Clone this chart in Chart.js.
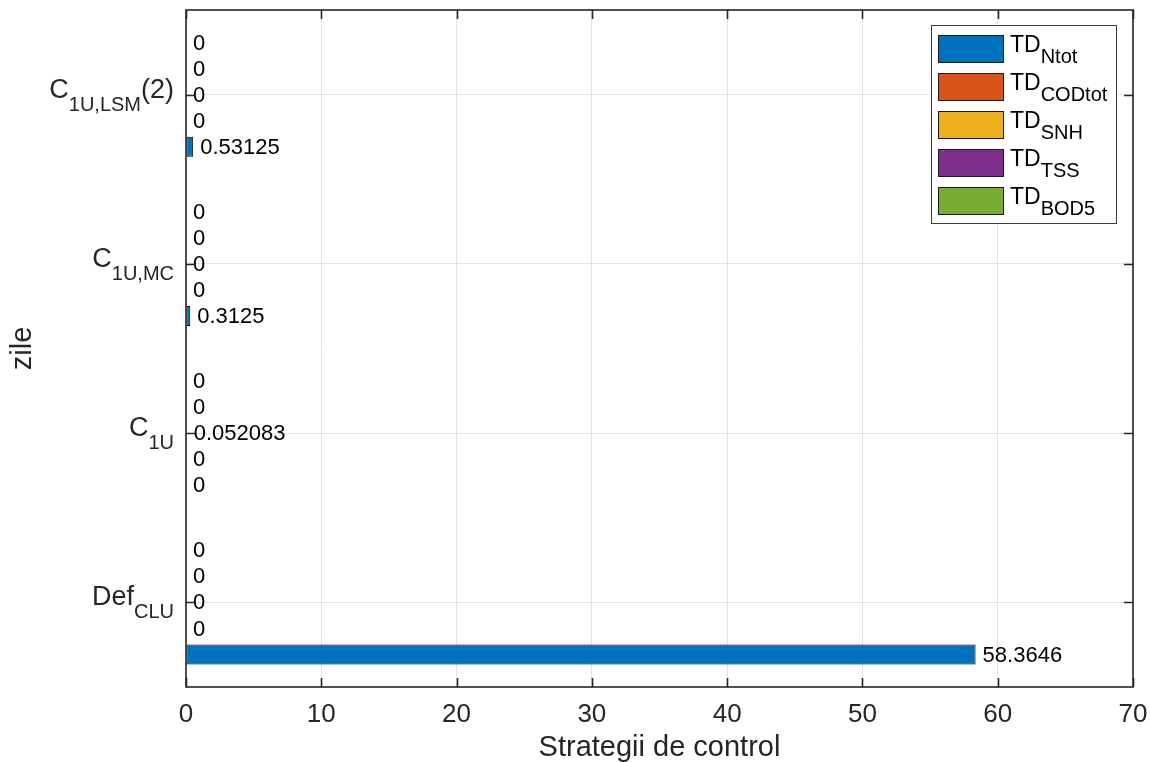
<!DOCTYPE html>
<html>
<head>
<meta charset="utf-8">
<script src="https://cdn.jsdelivr.net/npm/chart.js@4.4.0/dist/chart.umd.min.js"></script>
<style>
  body { margin: 0; background: #fff; }
  #wrap { width: 1150px; height: 762px; }
</style>
</head>
<body>
<div id="wrap"><canvas id="chart"></canvas></div>
<script>
// strategies, top to bottom on the y axis (name, subscript, suffix)
let catBase = ['C', 'C', 'C', 'Def'];
let catSub = ['1U,LSM', '1U,MC', '1U', 'CLU'];
let catTail = ['(2)', '', '', ''];

// series: TD + subscript
let seriesBase = 'TD';
let seriesSub = ['Ntot', 'CODtot', 'SNH', 'TSS', 'BOD5'];
let seriesColors = ['#0072BD', '#D95319', '#EDB120', '#7E2F8E', '#77AC30'];

// zile, same order as the categories
let tdNtot = [0.53125, 0.3125, 0, 58.3646];
let tdCODtot = [0, 0, 0, 0];
let tdSNH = [0, 0, 0.052083, 0];
let tdTSS = [0, 0, 0, 0];
let tdBOD5 = [0, 0, 0, 0];

let xTicks = [0, 10, 20, 30, 40, 50, 60, 70];

const FONT = "'Liberation Sans', Arial, Helvetica, sans-serif";
const INK = '#262626';

let seriesData = [tdNtot, tdCODtot, tdSNH, tdTSS, tdBOD5];

// first series sits at the bottom of each group, so datasets go in reverse
let datasets = seriesData.map((d, i) => ({
    label: seriesBase + seriesSub[i],
    data: d,
    backgroundColor: seriesColors[i],
    borderColor: '#000',
    borderWidth: 1,
    borderSkipped: false,
    categoryPercentage: 0.77,
    barPercentage: 0.77
})).reverse();

function fmt(v) {
    return String(Number(v.toPrecision(6)));
}

// text with a subscript part, tex style
function subText(ctx, x, y, base, sub, tail, big, small, drop, align) {
    ctx.font = big + 'px ' + FONT;
    let wb = ctx.measureText(base).width;
    let wt = ctx.measureText(tail).width;
    ctx.font = small + 'px ' + FONT;
    let ws = ctx.measureText(sub).width;
    let x0 = align === 'right' ? x - (wb + ws + wt) : x;
    ctx.textAlign = 'left';
    ctx.textBaseline = 'alphabetic';
    ctx.font = big + 'px ' + FONT;
    ctx.fillText(base, x0, y);
    ctx.font = small + 'px ' + FONT;
    ctx.fillText(sub, x0 + wb, y + drop);
    ctx.font = big + 'px ' + FONT;
    ctx.fillText(tail, x0 + wb + ws, y);
}

let matlabLook = {
    id: 'matlabLook',
    afterDatasetsDraw(chart) {
        let ctx = chart.ctx;
        let a = chart.chartArea;
        let xs = chart.scales.x;
        let ys = chart.scales.y;
        ctx.save();

        // value labels at the bar ends
        ctx.fillStyle = '#000';
        ctx.font = '22px ' + FONT;
        ctx.textAlign = 'left';
        ctx.textBaseline = 'middle';
        chart.data.datasets.forEach((ds, i) => {
            let meta = chart.getDatasetMeta(i);
            meta.data.forEach((el, j) => {
                ctx.fillText(fmt(ds.data[j]), el.x + 7, el.y + 1);
            });
        });

        // axes box and inward tick marks
        ctx.strokeStyle = INK;
        ctx.lineWidth = 1.6;
        ctx.strokeRect(a.left, a.top, a.right - a.left, a.bottom - a.top);
        ctx.beginPath();
        xTicks.forEach(v => {
            let px = Math.round(xs.getPixelForValue(v)) + 0.5;
            ctx.moveTo(px, a.bottom); ctx.lineTo(px, a.bottom - 9);
            ctx.moveTo(px, a.top); ctx.lineTo(px, a.top + 9);
        });
        catBase.forEach((c, i) => {
            let py = Math.round(ys.getPixelForValue(i)) + 0.5;
            ctx.moveTo(a.left, py); ctx.lineTo(a.left + 9, py);
            ctx.moveTo(a.right, py); ctx.lineTo(a.right - 9, py);
        });
        ctx.stroke();

        // category labels
        ctx.fillStyle = INK;
        catBase.forEach((c, i) => {
            let py = ys.getPixelForValue(i);
            subText(ctx, a.left - 12, py + 3, c, catSub[i], catTail[i], 27, 20, 13, 'right');
        });

        // legend
        let lx = a.right - 17, ly = a.top + 15;
        let lw = 185, lh = 198;
        ctx.fillStyle = '#fff';
        ctx.fillRect(lx - lw, ly, lw, lh);
        ctx.strokeStyle = '#3c3c3c';
        ctx.lineWidth = 1;
        ctx.strokeRect(lx - lw + 0.5, ly + 0.5, lw, lh);
        seriesSub.forEach((s, i) => {
            let cy = ly + 24 + 38 * i;
            let sx = lx - lw + 7;
            ctx.fillStyle = seriesColors[i];
            ctx.fillRect(sx, cy - 14, 66, 28);
            ctx.strokeStyle = '#1a1a1a';
            ctx.strokeRect(sx + 0.5, cy - 13.5, 65, 27);
            ctx.fillStyle = '#000';
            subText(ctx, sx + 72, cy + 3, seriesBase, s, '', 23, 20, 11, 'left');
        });

        ctx.restore();
    }
};

let ctx = document.getElementById('chart').getContext('2d');
let chart = new Chart(ctx, {
    type: 'bar',
    data: {
        labels: catBase.map((c, i) => c + catSub[i] + catTail[i]),
        datasets: datasets
    },
    options: {
        indexAxis: 'y',
        responsive: true,
        maintainAspectRatio: false,
        animation: false,
        layout: { padding: { top: 10, right: 17 } },
        plugins: {
            legend: { display: false },
            tooltip: { enabled: false }
        },
        scales: {
            x: {
                min: xTicks[0],
                max: xTicks[xTicks.length - 1],
                afterFit: s => { s.height = 75; s.paddingLeft = 0; s.paddingRight = 0; },
                ticks: {
                    stepSize: 10,
                    color: INK,
                    padding: 12,
                    font: { family: FONT, size: 26 }
                },
                grid: { color: '#e3e3e3', drawTicks: false },
                border: { display: false },
                title: {
                    display: true,
                    text: 'Strategii de control',
                    color: INK,
                    font: { family: FONT, size: 29, lineHeight: 1 },
                    padding: { top: 0, bottom: 0 }
                }
            },
            y: {
                afterFit: s => { s.width = 186; },
                ticks: { display: false },
                grid: { color: '#e3e3e3', offset: false, drawTicks: false },
                border: { display: false },
                title: {
                    display: true,
                    text: 'zile',
                    color: INK,
                    font: { family: FONT, size: 29, lineHeight: 1 },
                    padding: { top: 8, bottom: 0 }
                }
            }
        }
    },
    plugins: [matlabLook]
});
</script>
</body>
</html>
